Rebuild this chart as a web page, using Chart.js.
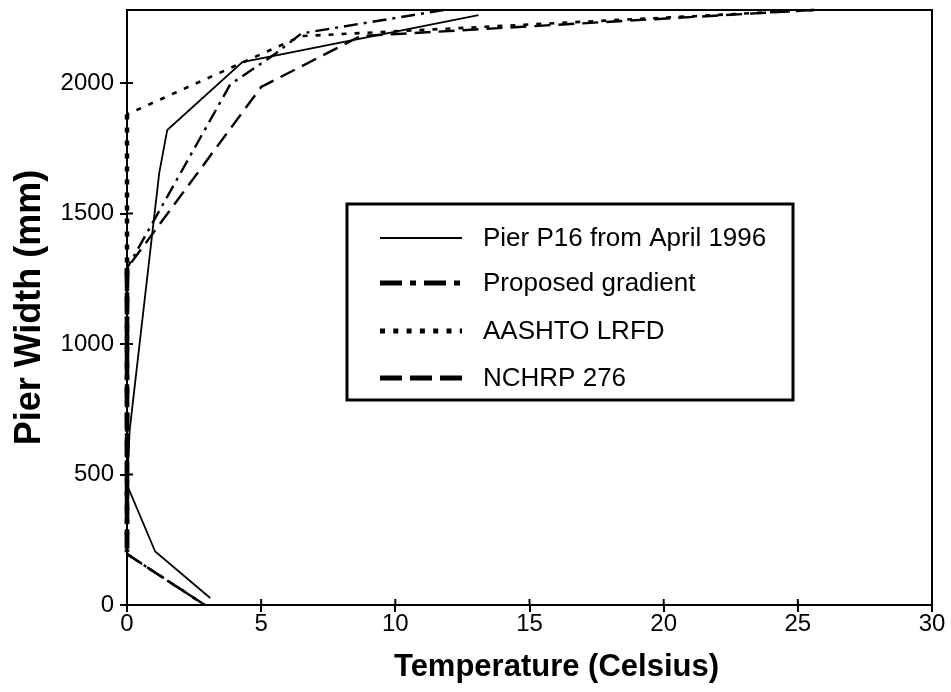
<!DOCTYPE html>
<html>
<head>
<meta charset="utf-8">
<title>Pier temperature gradient</title>
<script src="https://cdn.jsdelivr.net/npm/chart.js@4"></script>
<style>
  body { margin: 0; background: #fff; }
  canvas { display: block; }
</style>
</head>
<body>
<canvas id="gradientChart" width="951" height="692"></canvas>
<script>
// Pier P16 measured profile (temperature vs. width)
const p16Temp  = [13.1, 4.3, 1.5, 1.2, 0.1, 0.0, 1.05, 3.1];
const p16Width = [2260, 2080, 1820, 1655, 670, 460, 205, 27];

// Proposed gradient
const proposedTemp  = [11.8, 6.5, 5.5, 3.85, 0, 0, 2.9];
const proposedWidth = [2280, 2190, 2110, 1995, 1290, 195, 0];

// AASHTO LRFD
const aashtoTemp  = [25.6, 6.5, 0, 0, 2.9];
const aashtoWidth = [2280, 2180, 1880, 195, 0];

// NCHRP 276
const nchrpTemp  = [25.6, 8.7, 5.0, 0, 0, 2.9];
const nchrpWidth = [2280, 2180, 1985, 1290, 195, 0];

const seriesLabels = ['Pier P16 from April 1996', 'Proposed gradient', 'AASHTO LRFD', 'NCHRP 276'];
const xTicks = [0, 5, 10, 15, 20, 25, 30];
const yTicks = [0, 500, 1000, 1500, 2000];

function toPoints(xs, ys) {
    return xs.map((x, i) => ({ x: x, y: ys[i] }));
}

const FONT = "'Liberation Sans', Arial, sans-serif";

// segments lying on the y axis come out heavier in the original
const axisSegmentWidth = ctx => (ctx.p0.parsed.x === 0 && ctx.p1.parsed.x === 0 ? 4.5 : undefined);

// legend samples are drawn thicker than the plotted lines
const legendStyles = [
    { width: 2, dash: [] },
    { width: 5, dash: [22, 8, 6, 8] },
    { width: 5, dash: [5, 8.3] },
    { width: 5, dash: [22, 8] }
];

// frame, inner tick marks, x title and the boxed legend
const framePlugin = {
    id: 'frame',
    afterDraw(chart) {
        const ctx = chart.ctx;
        const a = chart.chartArea;
        const xs = chart.scales.x, ys = chart.scales.y;
        ctx.save();
        ctx.strokeStyle = '#000';
        ctx.lineWidth = 2;
        ctx.setLineDash([]);
        ctx.beginPath();
        ctx.moveTo(a.left, a.top);
        ctx.lineTo(a.right, a.top);
        ctx.lineTo(a.right, a.bottom);
        // inner halves of the tick marks
        xTicks.forEach(v => {
            const px = xs.getPixelForValue(v);
            ctx.moveTo(px, a.bottom);
            ctx.lineTo(px, a.bottom - 6);
        });
        yTicks.forEach(v => {
            const py = ys.getPixelForValue(v);
            ctx.moveTo(a.left, py);
            ctx.lineTo(a.left + 6, py);
        });
        ctx.stroke();

        // x axis title (sits a little right of centre in the original)
        ctx.fillStyle = '#000';
        ctx.font = 'bold 31px ' + FONT;
        ctx.textAlign = 'center';
        ctx.textBaseline = 'middle';
        ctx.fillText('Temperature (Celsius)', (a.left + a.right) / 2 + 27, 667);

        // legend box
        const bx = a.left + 220, by = a.top + 194, bw = 446, bh = 196;
        ctx.fillStyle = '#fff';
        ctx.fillRect(bx, by, bw, bh);
        ctx.lineWidth = 3;
        ctx.strokeRect(bx, by, bw, bh);
        const rows = [34, 79, 127, 174];
        ctx.font = '26px ' + FONT;
        ctx.textAlign = 'left';
        ctx.fillStyle = '#000';
        seriesLabels.forEach((lab, i) => {
            const y = by + rows[i];
            ctx.lineWidth = legendStyles[i].width;
            ctx.setLineDash(legendStyles[i].dash);
            ctx.lineCap = 'butt';
            ctx.beginPath();
            ctx.moveTo(bx + 33, y);
            ctx.lineTo(bx + 115, y);
            ctx.stroke();
            ctx.setLineDash([]);
            ctx.fillText(lab, bx + 136, y + 1);
        });
        ctx.restore();
    }
};

const ctx = document.getElementById('gradientChart').getContext('2d');
const gradientChart = new Chart(ctx, {
    type: 'scatter',
    data: {
        datasets: [
            {
                label: seriesLabels[0],
                data: toPoints(p16Temp, p16Width),
                borderColor: '#000',
                borderWidth: 1.8
            },
            {
                label: seriesLabels[1],
                data: toPoints(proposedTemp, proposedWidth),
                borderColor: '#000',
                borderWidth: 2.4,
                borderDash: [14, 6, 3, 6],
                segment: { borderWidth: axisSegmentWidth }
            },
            {
                label: seriesLabels[2],
                data: toPoints(aashtoTemp, aashtoWidth),
                borderColor: '#000',
                borderWidth: 2.6,
                borderDash: [5, 8],
                segment: { borderWidth: axisSegmentWidth }
            },
            {
                label: seriesLabels[3],
                data: toPoints(nchrpTemp, nchrpWidth),
                borderColor: '#000',
                borderWidth: 2.4,
                borderDash: [16, 8],
                segment: { borderWidth: axisSegmentWidth }
            }
        ]
    },
    options: {
        responsive: false,
        animation: false,
        showLine: true,
        clip: false,
        elements: {
            point: { radius: 0, hoverRadius: 0 },
            line: { tension: 0, fill: false }
        },
        layout: { padding: { top: 10, right: 19, bottom: 0, left: 0 } },
        plugins: {
            legend: { display: false },
            tooltip: { enabled: false }
        },
        scales: {
            x: {
                type: 'linear',
                min: 0,
                max: 30,
                afterFit(scale) {
                    scale.height = 87;
                    scale.paddingLeft = 0;
                    scale.paddingRight = 0;
                },
                afterBuildTicks(scale) { scale.ticks = xTicks.map(v => ({ value: v })); },
                border: { display: true, color: '#000', width: 2 },
                grid: { drawOnChartArea: false, drawTicks: true, tickLength: 7, color: '#000', lineWidth: 2 },
                ticks: {
                    color: '#000',
                    padding: 0,
                    font: { family: FONT, size: 24, lineHeight: 1 },
                    callback: v => String(v)
                },
                title: { display: false }
            },
            y: {
                type: 'linear',
                min: 0,
                max: 2280,
                afterFit(scale) {
                    scale.width = 127;
                    scale.paddingTop = 0;
                    scale.paddingBottom = 0;
                },
                afterBuildTicks(scale) { scale.ticks = yTicks.map(v => ({ value: v })); },
                border: { display: true, color: '#000', width: 2 },
                grid: { drawOnChartArea: false, drawTicks: true, tickLength: 7, color: '#000', lineWidth: 2 },
                ticks: {
                    color: '#000',
                    padding: 6,
                    font: { family: FONT, size: 24, lineHeight: 1 },
                    callback: v => String(v)
                },
                title: {
                    display: true,
                    text: 'Pier Width (mm)',
                    color: '#000',
                    padding: { top: 8, bottom: 0 },
                    font: { family: FONT, size: 36, weight: 'bold', lineHeight: 1.2 }
                }
            }
        }
    },
    plugins: [framePlugin]
});
</script>
</body>
</html>
